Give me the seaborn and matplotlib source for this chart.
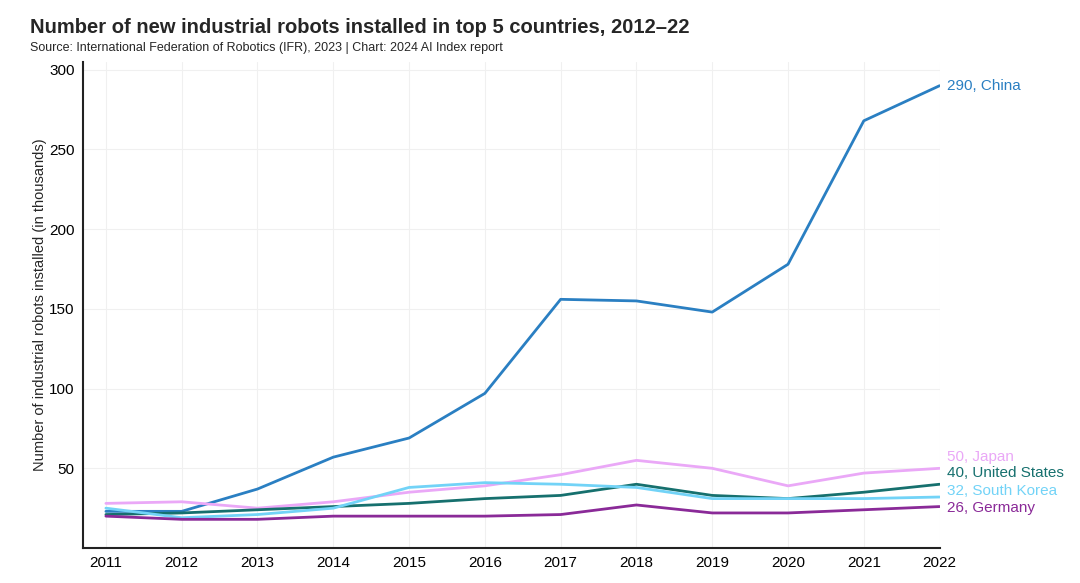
import pandas as pd
import numpy as np
import seaborn as sns
import matplotlib.pyplot as plt

# data (thousands of units)
years = list(range(2011, 2023))
china = [23, 23, 37, 57, 69, 97, 156, 155, 148, 178, 268, 290]
japan = [28, 29, 25, 29, 35, 39, 46, 55, 50, 39, 47, 50]
united_states = [21, 22, 24, 26, 28, 31, 33, 40, 33, 31, 35, 40]
south_korea = [25, 19, 21, 25, 38, 41, 40, 38, 31, 31, 31, 32]
germany = [20, 18, 18, 20, 20, 20, 21, 27, 22, 22, 24, 26]

countries = ["China", "Japan", "United States", "South Korea", "Germany"]
series = [china, japan, united_states, south_korea, germany]
colors = ["#2a7fc2", "#eaa8f7", "#16706e", "#72d3f7", "#8a2a98"]
# where the end labels sit (spread apart so they don't overlap)
label_y = [290, 57, 47, 36, 25]

df = pd.DataFrame({
    "year": years * len(countries),
    "country": np.repeat(countries, len(years)),
    "value": sum(series, []),
})

sns.set_style("white")
plt.rcParams["font.family"] = ["Liberation Sans", "DejaVu Sans"]

fig = plt.figure(figsize=(10.8, 5.83), dpi=100)
ax = fig.add_axes([0.077, 0.06, 0.793, 0.834])

sns.lineplot(data=df, x="year", y="value", hue="country",
             palette=dict(zip(countries, colors)), linewidth=2,
             legend=False, ax=ax)

ax.set_xlim(2010.7, 2022)
ax.set_ylim(0, 305)
ax.set_xticks(years)
ax.set_yticks([50, 100, 150, 200, 250, 300])
ax.tick_params(axis="both", length=0, labelsize=11, colors="black", pad=6)
ax.grid(True, color="#f0f0f0", linewidth=0.8)

for s in ["top", "right"]:
    ax.spines[s].set_visible(False)
for s in ["left", "bottom"]:
    ax.spines[s].set_color("#222222")
    ax.spines[s].set_linewidth(1.5)

ax.set_xlabel("")
ax.set_ylabel("Number of industrial robots installed (in thousands)",
              fontsize=10.5, labelpad=2)

for name, vals, c, ly in zip(countries, series, colors, label_y):
    ax.text(years[-1] + 0.1, ly, f"{vals[-1]}, {name}", color=c,
            fontsize=11, va="center", ha="left", clip_on=False)

fig.text(0.028, 0.952, "Number of new industrial robots installed in top 5 countries, 2012–22",
         fontsize=14.5, fontweight="bold", va="center")
fig.text(0.028, 0.918, "Source: International Federation of Robotics (IFR), 2023 | Chart: 2024 AI Index report",
         fontsize=9, va="center")

fig.savefig("out.png", dpi=100)
